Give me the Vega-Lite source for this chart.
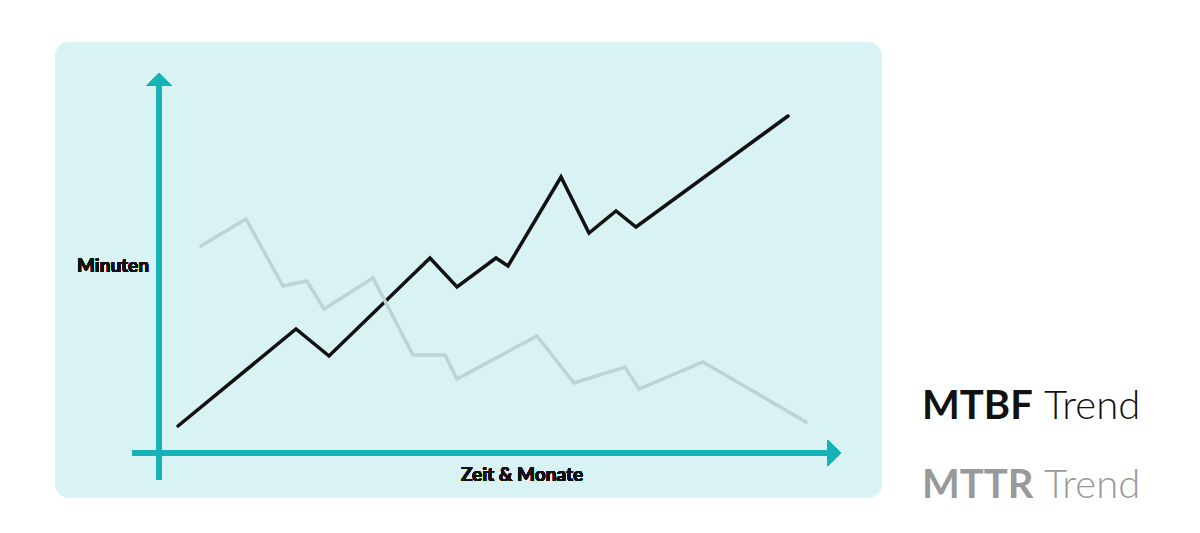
{
  "$schema": "https://vega.github.io/schema/vega-lite/v6.json",
  "background": "white",
  "padding": {"left": 55, "top": 42, "right": 0, "bottom": 0},
  "spacing": 40,
  "config": {"view": {"stroke": null}},
  "resolve": {"scale": {"color": "independent", "y": "independent", "x": "independent"}},
  "datasets": {
    "trend": [
      {"series": "MTBF", "monat": 0.38, "minuten": 6.75},
      {"series": "MTBF", "monat": 2.74, "minuten": 31},
      {"series": "MTBF", "monat": 3.4, "minuten": 24.25},
      {"series": "MTBF", "monat": 5.42, "minuten": 48.75},
      {"series": "MTBF", "monat": 5.96, "minuten": 41.5},
      {"series": "MTBF", "monat": 6.74, "minuten": 48.75},
      {"series": "MTBF", "monat": 6.98, "minuten": 46.75},
      {"series": "MTBF", "monat": 8.04, "minuten": 69},
      {"series": "MTBF", "monat": 8.6, "minuten": 55},
      {"series": "MTBF", "monat": 9.14, "minuten": 60.5},
      {"series": "MTBF", "monat": 9.54, "minuten": 56.5},
      {"series": "MTBF", "monat": 12.58, "minuten": 84.25},
      {"series": "MTTR", "monat": 0.84, "minuten": 51.75},
      {"series": "MTTR", "monat": 1.74, "minuten": 58.5},
      {"series": "MTTR", "monat": 2.48, "minuten": 41.75},
      {"series": "MTTR", "monat": 2.96, "minuten": 43},
      {"series": "MTTR", "monat": 3.3, "minuten": 36},
      {"series": "MTTR", "monat": 4.28, "minuten": 43.75},
      {"series": "MTTR", "monat": 5.08, "minuten": 24.5},
      {"series": "MTTR", "monat": 5.72, "minuten": 24.5},
      {"series": "MTTR", "monat": 5.96, "minuten": 18.5},
      {"series": "MTTR", "monat": 7.56, "minuten": 29.25},
      {"series": "MTTR", "monat": 8.3, "minuten": 17.5},
      {"series": "MTTR", "monat": 9.32, "minuten": 21.5},
      {"series": "MTTR", "monat": 9.6, "minuten": 16},
      {"series": "MTTR", "monat": 10.88, "minuten": 22.75},
      {"series": "MTTR", "monat": 12.94, "minuten": 7.75}
    ]
  },
  "hconcat": [
    {
      "width": 827,
      "height": 456,
      "view": {"fill": "#d9f3f4", "cornerRadius": 14, "stroke": null},
      "data": {"name": "trend"},
      "encoding": {
        "x": {"type": "quantitative", "scale": {"domain": [-2.08, 14.46], "nice": false, "zero": false}, "axis": null},
        "y": {"type": "quantitative", "scale": {"domain": [-11.25, 102.75], "nice": false, "zero": false}, "axis": null}
      },
      "layer": [
        {
          "mark": {"type": "rule", "color": "#16b3b6", "strokeWidth": 6},
          "encoding": {"x": {"datum": 0}, "y": {"datum": -6.75}, "y2": {"datum": 91.75}}
        },
        {
          "mark": {"type": "rule", "color": "#16b3b6", "strokeWidth": 6},
          "encoding": {"x": {"datum": -0.54}, "x2": {"datum": 13.42}, "y": {"datum": 0}}
        },
        {
          "mark": {"type": "point", "shape": "M0,-0.5L1,0.5L-1,0.5Z", "size": 676, "filled": true, "color": "#16b3b6", "opacity": 1},
          "encoding": {"x": {"datum": 0}, "y": {"datum": 93.375}}
        },
        {
          "mark": {"type": "point", "shape": "M0.5,0L-0.5,1L-0.5,-1Z", "size": 676, "filled": true, "color": "#16b3b6", "opacity": 1},
          "encoding": {"x": {"datum": 13.5}, "y": {"datum": 0}}
        },
        {
          "mark": {"type": "text", "text": "Minuten", "font": "Lato", "fontWeight": "bold", "fontSize": 19, "color": "#111111", "align": "center", "baseline": "middle"},
          "encoding": {"x": {"datum": -0.92}, "y": {"datum": 46.75}}
        },
        {
          "mark": {"type": "text", "text": "Zeit & Monate", "font": "Lato", "fontWeight": "bold", "fontSize": 19, "color": "#111111", "align": "center", "baseline": "middle"},
          "encoding": {"x": {"datum": 7.26}, "y": {"datum": -5.5}}
        },
        {
          "mark": {"type": "line", "strokeWidth": 3.5, "strokeJoin": "miter", "strokeCap": "round"},
          "encoding": {
            "x": {"field": "monat", "type": "quantitative"},
            "y": {"field": "minuten", "type": "quantitative"},
            "detail": {"field": "series"},
            "order": {"field": "monat"},
            "color": {"field": "series", "type": "nominal", "legend": null, "scale": {"domain": ["MTTR", "MTBF"], "range": ["#bdd3d5", "#111111"]}}
          }
        }
      ]
    },
    {
      "width": 240,
      "height": 456,
      "view": {"fill": null, "stroke": null},
      "data": {"name": "trend"},
      "transform": [{"aggregate": [{"op": "count", "as": "n"}], "groupby": ["series"]}],
      "encoding": {
        "x": {"value": 0},
        "y": {"field": "series", "type": "nominal", "axis": null, "scale": {"type": "point", "domain": ["MTBF", "MTTR"], "range": [377, 456], "padding": 0}},
        "color": {"field": "series", "type": "nominal", "legend": null, "scale": {"domain": ["MTBF", "MTTR"], "range": ["#111111", "#999999"]}}
      },
      "layer": [
        {
          "mark": {"type": "text", "font": "Lato", "fontWeight": "bold", "fontSize": 40, "align": "left", "baseline": "alphabetic"},
          "encoding": {"text": {"field": "series"}}
        },
        {
          "mark": {"type": "text", "text": "Trend", "font": "Lato", "fontWeight": 300, "fontSize": 40, "align": "left", "baseline": "alphabetic", "dx": 122}
        }
      ]
    }
  ]
}
